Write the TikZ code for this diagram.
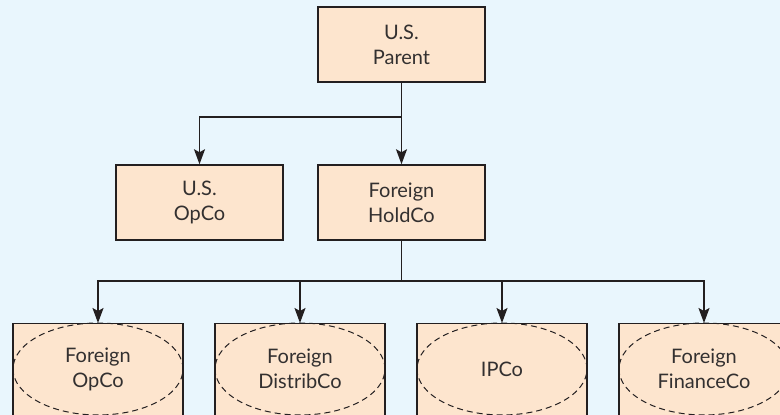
\documentclass[tikz,border=0pt]{standalone}
\usepackage{fontspec}
\setmainfont{Lato}
\usetikzlibrary{arrows.meta,shapes.geometric}
\definecolor{bgc}{RGB}{233,246,253}
\definecolor{boxc}{RGB}{253,229,206}
\definecolor{linec}{RGB}{35,31,32}
\definecolor{txtc}{RGB}{51,48,48}
\begin{document}
\begin{tikzpicture}[x=1pt,y=1pt,
  every node/.style={font=\fontsize{20}{25}\selectfont, text=txtc, align=center},
  entity/.style={draw=linec, line width=1.5pt, fill=boxc, minimum width=167pt, minimum height=75pt, inner sep=0pt},
  subbox/.style={draw=linec, line width=1.5pt, fill=boxc, minimum width=170pt, minimum height=120pt, inner sep=0pt, anchor=north},
  hybrid/.style={ellipse, draw=linec, line width=1pt, dash pattern=on 6pt off 4pt, minimum width=170pt, minimum height=92pt, inner sep=0pt},
  conn/.style={draw=linec, line width=1.5pt},
  arr/.style={conn, -{Stealth[length=15pt, width=11pt, inset=3pt]}}
]
\fill[bgc] (0,0) rectangle (780,415);
\useasboundingbox (0,0) rectangle (780,415);
\clip (0,0) rectangle (780,415);

\node[entity] (parent) at (401.5,370.5) {U.S.\\Parent};
\node[entity] (usop) at (199.5,212.5) {U.S.\\OpCo};
\node[entity] (hold) at (401.5,212.5) {Foreign\\HoldCo};

\node[subbox] (b1) at (98,92) {};
\node[subbox] (b2) at (300,92) {};
\node[subbox] (b3) at (502,92) {};
\node[subbox] (b4) at (704,92) {};

\node[hybrid] (e1) at (98,46) {Foreign\\OpCo};
\node[hybrid] (e2) at (300,46) {Foreign\\DistribCo};
\node[hybrid] (e3) at (502,46) {IPCo};
\node[hybrid] (e4) at (704,46) {Foreign\\FinanceCo};

\coordinate (j1) at (401.5,298);
\coordinate (j2) at (401.5,134);

\draw[arr] (parent.south) -- (hold.north);
\draw[arr] (j1) -| (usop.north);
\draw[conn] (hold.south) -- (j2);
\draw[arr] (j2) -| (b1.north);
\draw[arr] (j2) -| (b2.north);
\draw[arr] (j2) -| (b3.north);
\draw[arr] (j2) -| (b4.north);
\end{tikzpicture}
\end{document}
